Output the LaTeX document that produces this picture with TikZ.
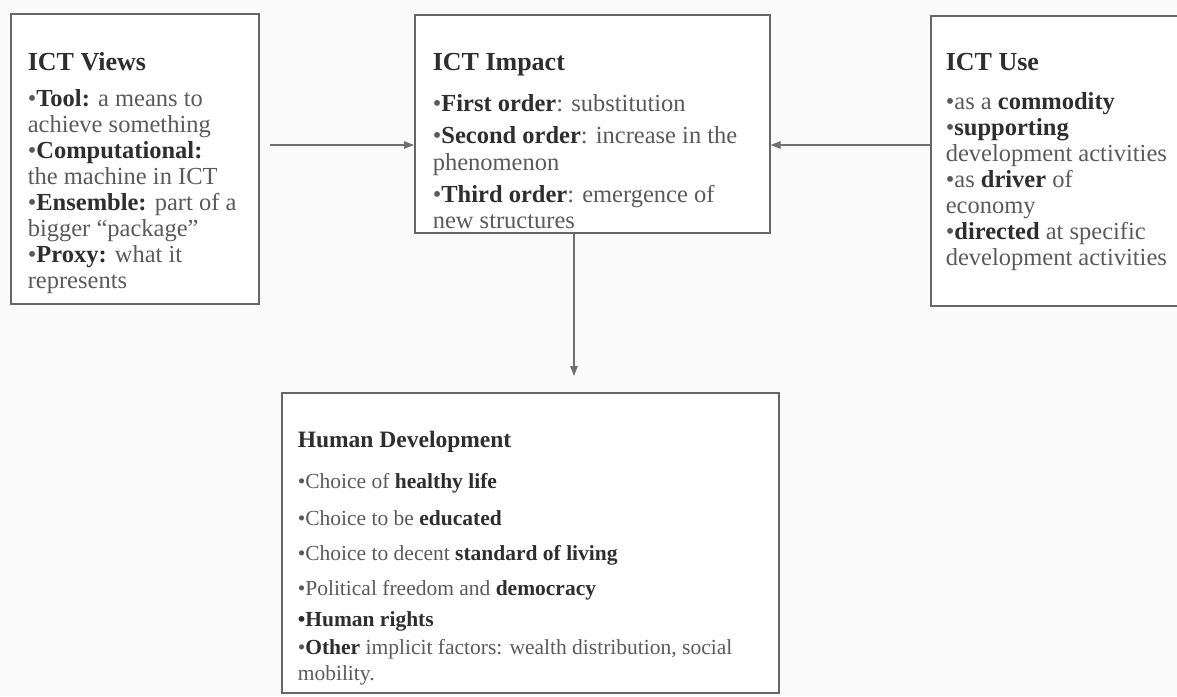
\documentclass[tikz,border=0pt]{standalone}
\usepackage{fontspec}
\setmainfont{Liberation Serif}
\usetikzlibrary{arrows.meta}
\definecolor{boxline}{HTML}{666666}
\definecolor{flowline}{HTML}{707070}
\definecolor{bodytext}{HTML}{5A5A5A}
\definecolor{keytext}{HTML}{2E2E2E}
\definecolor{paper}{HTML}{FAFAFA}
\newcommand{\kw}[1]{\textcolor{keytext}{\textbf{#1}}}
% #1 box height, #2 box width, #3 left padding, #4 body size, #5 lines
\newcommand{\panelbody}[5]{\parbox[t][#1][t]{#2}{\raggedright\setlength{\leftskip}{#3}%
  \lineskiplimit=-100pt\fontsize{#4}{26}\selectfont #5}}
\newcommand{\paneltitle}[2]{{\fontsize{#1}{26}\selectfont\kw{#2}}}
\tikzset{
  ictfig/.style={
    x=1pt, y=-1pt,
    >={Triangle[length=10pt, width=7.5pt]},
  },
  panel/.style={
    draw=boxline, line width=1.6pt, fill=white, inner sep=0pt,
    anchor=north west, text=bodytext,
  },
  flow/.style={->, draw=flowline, line width=1.2pt},
}
\begin{document}
\begin{tikzpicture}[ictfig]
  \useasboundingbox (0,0) rectangle (1177,696);
  \clip (0,0) rectangle (1177,696);
  \fill[paper] (0,0) rectangle (1177,696);

  \node[panel] (views) at (10,13) {\panelbody{290pt}{248pt}{17pt}{24.5}{%
    \rule{0pt}{57pt}\paneltitle{26}{ICT Views}\\[10pt]
    •\kw{Tool:} a means to\\
    achieve something\\
    •\kw{Computational:}\\
    the machine in ICT\\
    •\kw{Ensemble:} part of a\\
    bigger ``package''\\
    •\kw{Proxy:} what it\\
    represents}};
  \node[panel] (impact) at (414,14) {\panelbody{218pt}{355pt}{18pt}{24.5}{%
    \rule{0pt}{56pt}\paneltitle{26}{ICT Impact}\\[15pt]
    •\kw{First order}: substitution\\[6pt]
    •\kw{Second order}: increase in the\\[1pt]
    phenomenon\\[6pt]
    •\kw{Third order}: emergence of\\
    new structures}};
  \node[panel] (use) at (930,15) {\panelbody{290pt}{260pt}{15pt}{24.5}{%
    \rule{0pt}{55pt}\paneltitle{26}{ICT Use}\\[13pt]
    •as a \kw{commodity}\\
    •\kw{supporting}\\
    development activities\\
    •as \kw{driver} of\\
    economy\\
    •\kw{directed} at specific\\
    development activities}};
  \node[panel] (hd) at (281,392) {\panelbody{300pt}{497pt}{16pt}{21.5}{%
    \rule{0pt}{55pt}\paneltitle{23.5}{Human Development}\\[15pt]
    •Choice of \kw{healthy life}\\[11pt]
    •Choice to be \kw{educated}\\[9pt]
    •Choice to decent \kw{standard of living}\\[9pt]
    •Political freedom and \kw{democracy}\\[5pt]
    \kw{•Human rights}\\[2pt]
    •\kw{Other} implicit factors: wealth distribution, social\\
    mobility.}};

  \coordinate (level) at (0,145);
  \coordinate (drop) at (574,0);
  \draw[flow, shorten <=10pt] (views.east |- level) -- (impact.west |- level);
  \draw[flow] (use.west |- level) -- (impact.east |- level);
  \draw[flow, shorten >=16pt] (impact.south -| drop) -- (hd.north -| drop);
\end{tikzpicture}
\end{document}
